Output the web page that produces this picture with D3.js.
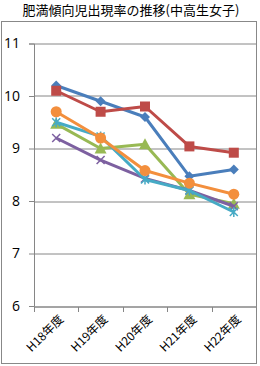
<!DOCTYPE html>
<html>
<head>
<meta charset="utf-8">
<script src="https://cdn.jsdelivr.net/npm/d3@7"></script>
<style>
  body { margin: 0; background: #fff; }
  svg { display: block; }
</style>
</head>
<body>
<svg id="drawing_region"></svg>
<script>
// data
const years = ["H18年度", "H19年度", "H20年度", "H21年度", "H22年度"];
const yTicks = [6, 7, 8, 9, 10, 11];
const blueSeries = [10.2, 9.9, 9.6, 8.47, 8.6];
const redSeries = [10.1, 9.7, 9.8, 9.04, 8.92];
const greenSeries = [9.47, 9.0, 9.08, 8.13, 7.95];
const purpleSeries = [9.2, 8.78, 8.43, 8.2, 7.9];
const aquaSeries = [9.5, 9.23, 8.41, 8.2, 7.79];
const orangeSeries = [9.7, 9.2, 8.58, 8.34, 8.13];

const series = [
    {values: blueSeries, color: "#4a7ebb", marker: "diamond"},
    {values: redSeries, color: "#be4b48", marker: "square"},
    {values: greenSeries, color: "#98b954", marker: "triangle"},
    {values: purpleSeries, color: "#7d60a0", marker: "x"},
    {values: aquaSeries, color: "#46aac5", marker: "star"},
    {values: orangeSeries, color: "#f38f3d", marker: "circle"}
];

const config = {
    width: 260,
    height: 366,
    margin: {top: 43.5, right: 4, bottom: 60, left: 34}
};

const svg = d3.select('#drawing_region')
    .attr('width', config.width)
    .attr('height', config.height);

// outer border
svg.append('rect')
    .attr('x', 1.5).attr('y', 21.5)
    .attr('width', 255).attr('height', 342)
    .attr('fill', 'none')
    .attr('stroke', '#888');

// title
svg.append('text')
    .attr('x', 131)
    .attr('y', 15)
    .attr('text-anchor', 'middle')
    .attr('font-family', '"Noto Sans CJK JP", sans-serif')
    .attr('font-size', '13px')
    .attr('fill', '#000')
    .text('肥満傾向児出現率の推移(中高生女子)');

const inner_width = 256 - config.margin.left;
const inner_height = 306 - config.margin.top;

const chart = svg.append('g')
    .attr('transform', `translate(${config.margin.left}, ${config.margin.top})`);

const xscale = d3.scaleBand()
    .domain(years)
    .range([0, inner_width]);

const yscale = d3.scaleLinear()
    .domain([6, 11])
    .range([inner_height, 0]);

// gridlines
chart.append('g')
    .selectAll('line')
    .data(yTicks)
    .join('line')
    .attr('x1', 0).attr('x2', inner_width)
    .attr('y1', d => Math.round(yscale(d)) + 0.5)
    .attr('y2', d => Math.round(yscale(d)) + 0.5)
    .attr('stroke', '#868686');

// y axis
const yaxis = d3.axisLeft(yscale)
    .tickValues(yTicks)
    .tickFormat(d3.format('d'))
    .tickSize(5)
    .tickPadding(9);

const yaxis_group = chart.append('g')
    .call(yaxis);
yaxis_group.select('.domain').attr('stroke', '#868686');
yaxis_group.selectAll('.tick line').attr('stroke', '#868686');
yaxis_group.selectAll('text')
    .attr('font-family', '"Open Sans", "Liberation Sans", sans-serif')
    .attr('font-size', '14px')
    .attr('fill', '#000');

// x axis (ticks between categories)
const xaxis_group = chart.append('g')
    .attr('transform', `translate(0, ${Math.round(inner_height) + 0.5})`);
xaxis_group.append('line')
    .attr('x1', 0).attr('x2', inner_width)
    .attr('stroke', '#868686');
xaxis_group.selectAll('.tk')
    .data(years.concat(['end']))
    .join('line')
    .attr('class', 'tk')
    .attr('x1', (d, i) => Math.round(i * xscale.step()) + 0.5)
    .attr('x2', (d, i) => Math.round(i * xscale.step()) + 0.5)
    .attr('y1', 0).attr('y2', 5)
    .attr('stroke', '#868686');
xaxis_group.selectAll('text')
    .data(years)
    .join('text')
    .attr('transform', d => `translate(${xscale(d) + xscale.bandwidth() / 2 + 5}, 10) rotate(-45)`)
    .attr('text-anchor', 'end')
    .attr('dy', '0.35em')
    .attr('font-family', '"Noto Sans CJK JP", sans-serif')
    .attr('font-size', '12px')
    .attr('fill', '#000')
    .text(d => d);

const cx = i => xscale(years[i]) + xscale.bandwidth() / 2;

const line = d3.line()
    .x((d, i) => cx(i))
    .y(d => yscale(d));

// markers
function drawMarker(g, type, color) {
    if (type === 'diamond') {
        g.append('path').attr('d', 'M0,-5L5,0L0,5L-5,0Z').attr('fill', color);
    } else if (type === 'square') {
        g.append('rect').attr('x', -5).attr('y', -5).attr('width', 10).attr('height', 10).attr('fill', color);
    } else if (type === 'triangle') {
        g.append('path').attr('d', 'M0,-6L6,5L-6,5Z').attr('fill', color);
    } else if (type === 'x') {
        g.append('path').attr('d', 'M-4,-4L4,4M-4,4L4,-4').attr('stroke', color).attr('stroke-width', 1.5);
    } else if (type === 'star') {
        g.append('path').attr('d', 'M-4,-4L4,4M-4,4L4,-4M0,-5L0,5').attr('stroke', color).attr('stroke-width', 1.5);
    } else if (type === 'circle') {
        g.append('circle').attr('r', 5.5).attr('fill', color);
    }
}

series.forEach(s => {
    const g = chart.append('g');
    g.append('path')
        .datum(s.values)
        .attr('d', line)
        .attr('fill', 'none')
        .attr('stroke', s.color)
        .attr('stroke-width', 3)
        .attr('stroke-linejoin', 'round');
    g.selectAll('g.pt')
        .data(s.values)
        .join('g')
        .attr('class', 'pt')
        .attr('transform', (d, i) => `translate(${cx(i)}, ${yscale(d)})`)
        .each(function () { drawMarker(d3.select(this), s.marker, s.color); });
});
</script>
</body>
</html>
